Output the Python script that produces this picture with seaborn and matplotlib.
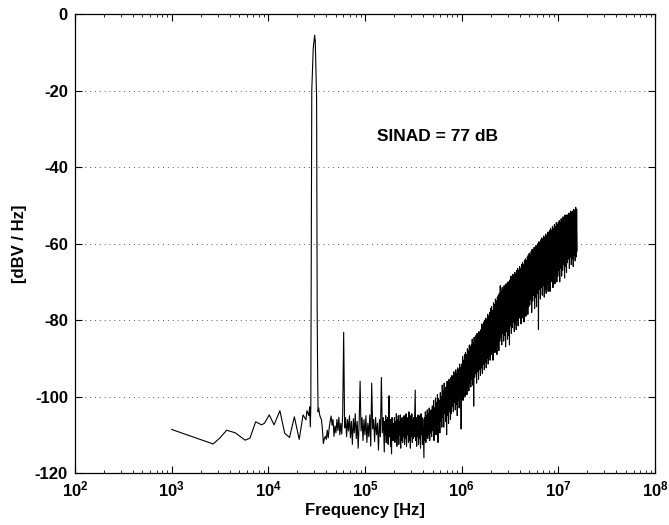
import matplotlib

matplotlib.use("Agg")
import matplotlib.pyplot as plt
import numpy as np
import pandas as pd
import seaborn as sns

# log10(frequency / Hz) and level in dBV/Hz
low_logf = [3.00, 3.43, 3.50, 3.57, 3.66, 3.76, 3.81, 3.87, 3.93, 3.96,
            4.01, 4.06, 4.12, 4.17, 4.22, 4.27, 4.32, 4.36, 4.39, 4.40,
            4.42, 4.428, 4.435]
low_db = [-108.6, -112.4, -110.8, -108.8, -109.5, -111.4, -110.9, -106.6, -107.4, -107.0,
          -104.8, -107.4, -103.7, -109.6, -110.7, -105.3, -111.2, -104.8, -106.1, -103.7,
          -105.0, -102.7, -107.9]

tone_logf = [4.440, 4.450, 4.465, 4.480, 4.486, 4.500, 4.506, 4.510, 4.515, 4.522]
tone_db = [-103.0, -20.0, -9.0, -5.5, -7.0, -22.0, -78.0, -92.0, -104.0, -103.0]

floor_logf = [4.53, 4.54, 4.55, 4.56, 4.57, 4.58, 4.59, 4.60, 4.61, 4.62,
              4.63, 4.64, 4.65, 4.66, 4.67, 4.68, 4.69, 4.70, 4.71, 4.72,
              4.73, 4.74, 4.75, 4.76, 4.77, 4.78, 4.79, 4.80, 4.81, 4.82,
              4.83, 4.84, 4.85, 4.86, 4.87, 4.88, 4.89, 4.90, 4.91, 4.92,
              4.93, 4.94, 4.95, 4.96, 4.97, 4.98, 4.99, 5.00, 5.01, 5.02,
              5.03, 5.04, 5.05, 5.06, 5.07, 5.08, 5.09, 5.10, 5.11, 5.12,
              5.13, 5.14, 5.15, 5.16, 5.17, 5.18, 5.19]
floor_db = [-104.6, -105.5, -106.0, -108.5, -112.3, -111.0, -110.4, -111.2, -108.8, -110.8,
            -108.2, -106.5, -105.1, -107.5, -106.0, -110.4, -107.7, -109.5, -106.0, -108.9,
            -105.4, -110.0, -107.0, -109.8, -104.5, -83.2, -108.2, -105.5, -110.5, -106.0,
            -109.0, -105.0, -110.8, -106.5, -112.5, -105.8, -109.5, -104.5, -111.0, -106.5,
            -113.5, -107.0, -96.0, -109.0, -105.5, -111.5, -106.0, -110.0, -105.0, -112.0,
            -107.0, -110.5, -104.8, -113.0, -96.5, -108.5, -106.0, -111.8, -105.5, -110.0,
            -107.0, -114.0, -106.0, -110.5, -95.0, -109.5, -105.5]

dense_floor_logf = [5.200, 5.205, 5.210, 5.215, 5.220, 5.225, 5.230, 5.235, 5.240, 5.245,
                    5.250, 5.255, 5.260, 5.265, 5.270, 5.275, 5.280, 5.285, 5.290, 5.295,
                    5.300, 5.305, 5.310, 5.315, 5.320, 5.325, 5.330, 5.335, 5.340, 5.345,
                    5.350, 5.355, 5.360, 5.365, 5.370, 5.375, 5.380, 5.385, 5.390, 5.395,
                    5.400, 5.405, 5.410, 5.415, 5.420, 5.425, 5.430, 5.435, 5.440, 5.445,
                    5.450, 5.455, 5.460, 5.465, 5.470, 5.475, 5.480, 5.485, 5.490, 5.495,
                    5.500, 5.505, 5.510, 5.515, 5.520, 5.525, 5.530, 5.535, 5.540, 5.545,
                    5.550, 5.555, 5.560, 5.565, 5.570, 5.575, 5.580, 5.585, 5.590, 5.595,
                    5.600, 5.605, 5.610, 5.615, 5.620, 5.625, 5.630, 5.635, 5.640, 5.645,
                    5.650, 5.655, 5.660, 5.665, 5.670, 5.675, 5.680, 5.685, 5.690, 5.695]
dense_floor_db = [-114.5, -106.5, -110.0, -105.0, -112.0, -106.0, -111.0, -105.5, -112.5, -104.5,
                  -99.8, -110.5, -106.0, -113.0, -107.0, -115.0, -105.5, -111.5, -107.0, -110.5,
                  -111.5, -105.5, -112.0, -106.5, -110.5, -104.5, -113.0, -106.0, -111.0, -105.0,
                  -112.5, -106.5, -110.0, -104.8, -113.5, -106.0, -111.5, -105.5, -112.0, -107.0,
                  -110.5, -105.0, -112.5, -106.5, -111.0, -104.5, -113.0, -105.5, -110.0, -106.0,
                  -112.0, -104.0, -111.5, -106.5, -113.5, -105.0, -110.5, -104.5, -112.0, -106.0,
                  -111.0, -105.5, -110.5, -105.0, -98.3, -111.5, -105.5, -113.0, -106.0, -110.5,
                  -104.8, -112.5, -105.0, -111.0, -106.5, -113.5, -104.5, -110.0, -105.5, -112.5,
                  -106.0, -111.5, -116.0, -105.5, -111.5, -104.0, -112.0, -105.0, -110.5, -103.5,
                  -111.0, -104.5, -110.0, -103.0, -111.5, -104.0, -109.5, -103.5, -110.5, -102.5]

band_logf = [5.700, 5.705, 5.710, 5.715, 5.720, 5.725, 5.730, 5.735, 5.740, 5.745,
             5.750, 5.755, 5.760, 5.765, 5.770, 5.775, 5.780, 5.785, 5.790, 5.795,
             5.800, 5.805, 5.810, 5.815, 5.820, 5.825, 5.830, 5.835, 5.840, 5.845,
             5.850, 5.855, 5.860, 5.865, 5.870, 5.875, 5.880, 5.885, 5.890, 5.895,
             5.900, 5.905, 5.910, 5.915, 5.920, 5.925, 5.930, 5.935, 5.940, 5.945,
             5.950, 5.955, 5.960, 5.965, 5.970, 5.975, 5.980, 5.985, 5.990, 5.995,
             6.000, 6.005, 6.010, 6.015, 6.020, 6.025, 6.030, 6.035, 6.040, 6.045,
             6.050, 6.055, 6.060, 6.065, 6.070, 6.075, 6.080, 6.085, 6.090, 6.095,
             6.100, 6.105, 6.110, 6.115, 6.120, 6.125, 6.130, 6.135, 6.140, 6.145,
             6.150, 6.155, 6.160, 6.165, 6.170, 6.175, 6.180, 6.185, 6.190, 6.195,
             6.200, 6.205, 6.210, 6.215, 6.220, 6.225, 6.230, 6.235, 6.240, 6.245,
             6.250, 6.255, 6.260, 6.265, 6.270, 6.275, 6.280, 6.285, 6.290, 6.295,
             6.300, 6.305, 6.310, 6.315, 6.320, 6.325, 6.330, 6.335, 6.340, 6.345,
             6.350, 6.355, 6.360, 6.365, 6.370, 6.375, 6.380, 6.385, 6.390, 6.395,
             6.400, 6.405, 6.410, 6.415, 6.420, 6.425, 6.430, 6.435, 6.440, 6.445,
             6.450, 6.455, 6.460, 6.465, 6.470, 6.475, 6.480, 6.485, 6.490, 6.495,
             6.500, 6.505, 6.510, 6.515, 6.520, 6.525, 6.530, 6.535, 6.540, 6.545,
             6.550, 6.555, 6.560, 6.565, 6.570, 6.575, 6.580, 6.585, 6.590, 6.595,
             6.600, 6.605, 6.610, 6.615, 6.620, 6.625, 6.630, 6.635, 6.640, 6.645,
             6.650, 6.655, 6.660, 6.665, 6.670, 6.675, 6.680, 6.685, 6.690, 6.695,
             6.700, 6.705, 6.710, 6.715, 6.720, 6.725, 6.730, 6.735, 6.740, 6.745,
             6.750, 6.755, 6.760, 6.765, 6.770, 6.775, 6.780, 6.785, 6.790, 6.795,
             6.800, 6.805, 6.810, 6.815, 6.820, 6.825, 6.830, 6.835, 6.840, 6.845,
             6.850, 6.855, 6.860, 6.865, 6.870, 6.875, 6.880, 6.885, 6.890, 6.895,
             6.900, 6.905, 6.910, 6.915, 6.920, 6.925, 6.930, 6.935, 6.940, 6.945,
             6.950, 6.955, 6.960, 6.965, 6.970, 6.975, 6.980, 6.985, 6.990, 6.995,
             7.000, 7.005, 7.010, 7.015, 7.020, 7.025, 7.030, 7.035, 7.040, 7.045,
             7.050, 7.055, 7.060, 7.065, 7.070, 7.075, 7.080, 7.085, 7.090, 7.095,
             7.100, 7.105, 7.110, 7.115, 7.120, 7.125, 7.130, 7.135, 7.140, 7.145,
             7.150, 7.155, 7.160, 7.165, 7.170, 7.175, 7.180, 7.185, 7.190, 7.195]
band_db = [-102.5, -109.0, -101.0, -111.5, -103.0, -107.5, -100.5, -110.0, -101.5, -108.5,
           -99.5, -112.0, -100.5, -107.0, -101.0, -109.5, -99.0, -106.5, -100.0, -108.0,
           -97.0, -105.5, -98.5, -108.0, -96.5, -104.5, -98.0, -106.5, -97.5, -110.0,
           -96.0, -105.0, -97.0, -107.0, -95.5, -104.0, -96.5, -106.0, -95.0, -104.5,
           -94.5, -102.5, -96.0, -104.0, -93.5, -101.5, -94.5, -103.5, -93.0, -102.0,
           -94.0, -105.0, -92.5, -101.0, -93.0, -103.0, -91.5, -100.5, -92.5, -108.5,
           -91.5, -99.0, -89.5, -101.0, -90.5, -98.5, -89.0, -100.0, -88.5, -98.0,
           -89.0, -99.5, -87.5, -97.0, -88.0, -98.5, -86.5, -96.5, -87.0, -97.5,
           -86.5, -95.5, -85.0, -97.0, -86.0, -102.5, -84.5, -95.0, -85.5, -94.0,
           -84.0, -96.5, -83.5, -93.5, -84.5, -95.5, -83.0, -93.0, -83.5, -94.5,
           -82.5, -92.5, -81.0, -94.0, -82.0, -91.5, -80.5, -93.0, -80.0, -91.0,
           -79.5, -92.5, -80.0, -90.0, -78.5, -91.5, -79.0, -89.5, -78.0, -90.5,
           -77.0, -89.0, -76.5, -87.5, -77.5, -90.5, -75.5, -87.0, -76.0, -88.5,
           -74.5, -86.0, -75.0, -89.0, -74.0, -86.5, -73.5, -88.0, -73.0, -85.5,
           -71.0, -84.5, -72.5, -86.5, -71.5, -83.5, -72.0, -85.5, -71.0, -84.0,
           -71.5, -87.0, -70.5, -83.0, -71.0, -85.0, -70.0, -84.0, -70.5, -86.5,
           -69.5, -81.5, -68.5, -83.5, -69.0, -82.0, -68.0, -80.5, -68.5, -83.0,
           -67.5, -81.0, -68.0, -82.5, -67.0, -80.0, -66.5, -81.5, -67.0, -79.5,
           -66.0, -78.5, -66.5, -81.0, -65.5, -79.5, -65.0, -77.5, -65.5, -80.5,
           -64.5, -78.0, -64.0, -79.0, -64.5, -77.0, -63.5, -78.5, -63.0, -76.5,
           -62.5, -76.0, -63.0, -74.5, -62.0, -78.0, -61.5, -75.0, -62.0, -73.5,
           -61.0, -77.0, -61.5, -74.0, -60.5, -76.5, -61.0, -73.0, -60.0, -82.5,
           -59.5, -72.0, -60.0, -74.5, -59.0, -71.5, -58.5, -73.5, -59.0, -71.0,
           -58.0, -74.0, -58.5, -72.0, -57.5, -73.0, -58.0, -70.5, -57.0, -72.5,
           -57.0, -69.5, -56.5, -72.5, -56.0, -70.0, -56.5, -68.5, -55.5, -71.5,
           -56.0, -69.0, -55.0, -70.5, -55.5, -68.0, -54.5, -70.0, -55.0, -68.5,
           -54.5, -67.0, -54.0, -70.0, -54.5, -66.5, -53.5, -68.5, -54.0, -67.0,
           -53.0, -65.5, -53.5, -69.0, -52.5, -66.0, -53.0, -67.5, -52.5, -65.0,
           -52.5, -64.0, -52.0, -66.5, -52.5, -63.5, -51.5, -65.5, -52.0, -64.0,
           -51.5, -66.0, -51.0, -63.0, -51.5, -64.5, -50.5, -63.5, -51.0, -62.0]

x_ticks = [1e2, 1e3, 1e4, 1e5, 1e6, 1e7, 1e8]
x_tick_labels = [r"$\mathbf{10^{2}}$", r"$\mathbf{10^{3}}$", r"$\mathbf{10^{4}}$",
                 r"$\mathbf{10^{5}}$", r"$\mathbf{10^{6}}$", r"$\mathbf{10^{7}}$",
                 r"$\mathbf{10^{8}}$"]
y_ticks = [-120, -100, -80, -60, -40, -20, 0]
y_tick_labels = ["-120", "-100", "-80", "-60", "-40", "-20", "0"]
annotation = "SINAD = 77 dB"

sns.set_theme(style="ticks")
plt.rcParams["font.family"] = ["Liberation Sans", "DejaVu Sans"]
plt.rcParams["font.weight"] = "bold"
plt.rcParams["text.color"] = "black"
plt.rcParams["axes.labelcolor"] = "black"
plt.rcParams["xtick.color"] = "black"
plt.rcParams["ytick.color"] = "black"
plt.rcParams["axes.unicode_minus"] = False
plt.rcParams["mathtext.fontset"] = "custom"
plt.rcParams["mathtext.bf"] = "Liberation Sans:bold"
plt.rcParams["mathtext.rm"] = "Liberation Sans:bold"

logf = low_logf + tone_logf + floor_logf + dense_floor_logf + band_logf
level = low_db + tone_db + floor_db + dense_floor_db + band_db
df = pd.DataFrame({"freq": np.power(10.0, logf), "level": level})

fig = plt.figure(figsize=(6.69, 5.25), dpi=100)
ax = fig.add_axes([0.112, 0.099, 0.867, 0.874])
sns.lineplot(data=df, x="freq", y="level", color="black", linewidth=0.8,
             estimator=None, sort=False, ax=ax)

ax.set_xscale("log")
ax.set_xlim(1e2, 1e8)
ax.set_ylim(-120, 0)
ax.set_xticks(x_ticks)
ax.set_xticklabels(x_tick_labels, fontsize=12)
ax.set_yticks(y_ticks)
ax.set_yticklabels(y_tick_labels, fontsize=12, fontweight="bold")
ax.yaxis.grid(True, linestyle=(0, (1, 4)), color="#555555", linewidth=0.7)
ax.tick_params(which="both", direction="in", top=True, right=True, colors="black")
ax.tick_params(which="major", length=5, width=0.8, pad=5)
ax.tick_params(which="minor", length=2.5, width=0.6)
for side in ax.spines.values():
    side.set_color("black")
    side.set_linewidth(0.9)

ax.set_xlabel("Frequency [Hz]", fontsize=12, fontweight="bold", labelpad=2)
ax.set_ylabel("[dBV / Hz]", fontsize=12, fontweight="bold", labelpad=6)
ax.text(10 ** 5.75, -32, annotation, ha="center", va="center",
        fontsize=12.5, fontweight="bold")

fig.savefig("out.png", dpi=100)
plt.close(fig)
